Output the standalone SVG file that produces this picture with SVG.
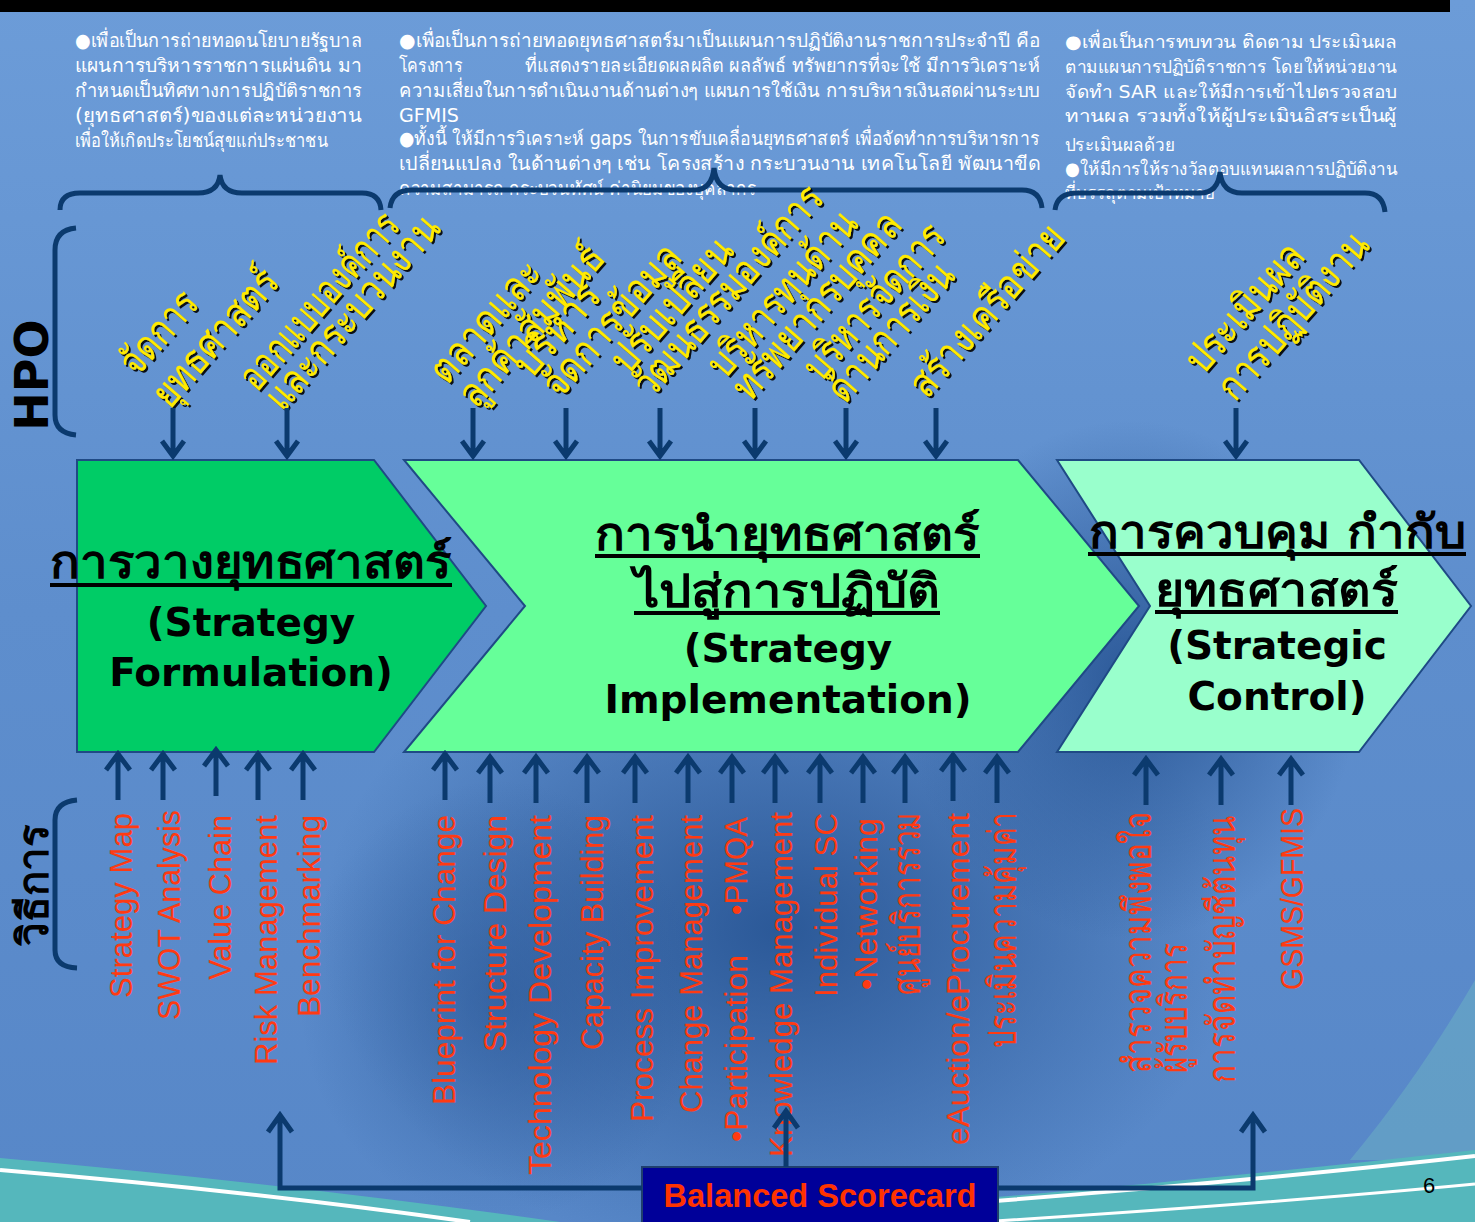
<svg xmlns="http://www.w3.org/2000/svg" width="1475" height="1222" viewBox="0 0 1475 1222">
<defs>
<linearGradient id="bg" x1="0" y1="0" x2="0" y2="1">
<stop offset="0" stop-color="#6C9CD8"/>
<stop offset="0.5" stop-color="#5E8ECD"/>
<stop offset="1" stop-color="#5787C8"/>
</linearGradient>
<radialGradient id="dk" cx="0.5" cy="0.5" r="0.5">
<stop offset="0" stop-color="#23508F" stop-opacity="0.85"/>
<stop offset="1" stop-color="#23508F" stop-opacity="0"/>
</radialGradient>
<filter id="sh" x="-5%" y="-5%" width="110%" height="110%"><feDropShadow dx="2" dy="2" stdDeviation="0.4" flood-color="#000" flood-opacity="0.9"/></filter>
<path id="up" d="M0,0 V-46 M-12,-30 L0,-46 L12,-30"/>
<path id="dn" d="M0,0 V47 M-11,33 L0,48 L11,33"/>
</defs>
<style>
.nv{stroke:#0B3A6E;stroke-width:5;fill:none;}
.chev{stroke:#1F4A85;stroke-width:2;}
.wt{font-family:"DejaVu Sans","Noto Sans",sans-serif;font-size:19px;fill:#fff;}
.yl{font-family:"DejaVu Sans","Noto Sans",sans-serif;font-size:41px;fill:#FFEA00;}
.rd{font-family:"Liberation Sans",Arial,sans-serif;font-size:31px;fill:#FF3A12;}
.rt{font-size:39px;}
.ti{font-family:"DejaVu Sans","Noto Sans",sans-serif;font-weight:bold;font-size:39px;fill:#000;text-anchor:middle;}
.th{font-family:"DejaVu Sans","Noto Sans",sans-serif;font-weight:bold;font-size:46px;fill:#000;}
.ul{stroke:#000;stroke-width:4;}
.side{font-family:"DejaVu Sans","Noto Sans",sans-serif;font-weight:bold;font-size:46px;fill:#000;text-anchor:middle;}
</style>

<!-- background -->
<rect x="0" y="0" width="1475" height="1222" fill="url(#bg)"/>
<ellipse cx="780" cy="930" rx="460" ry="330" fill="url(#dk)"/>
<ellipse cx="1130" cy="680" rx="230" ry="260" fill="url(#dk)"/>
<ellipse cx="500" cy="1000" rx="200" ry="220" fill="url(#dk)" opacity="0.6"/>
<rect x="0" y="0" width="1450" height="12" fill="#000"/>
<path d="M1475,980 C1440,1040 1400,1100 1350,1160 L1475,1160 Z" fill="#6FB8C4" opacity="0.45"/>
<path d="M640,1222 C950,1205 1250,1175 1475,1150 L1475,1222 Z" fill="#55B7BC"/>
<path d="M700,1222 C1000,1203 1280,1178 1475,1156" fill="none" stroke="#fff" stroke-width="4"/>
<path d="M980,1222 C1200,1208 1350,1196 1475,1184" fill="none" stroke="#fff" stroke-width="3"/>
<path d="M0,1158 Q300,1185 560,1222 L0,1222 Z" fill="#55B7BC"/>
<path d="M0,1170 Q260,1192 470,1222" fill="none" stroke="#fff" stroke-width="4"/>

<!-- top paragraphs -->
<g id="para-left" class="wt">
<text x="75" y="47" textLength="287" lengthAdjust="spacingAndGlyphs">●เพื่อเป็นการถ่ายทอดนโยบายรัฐบาล</text>
<text x="75" y="72" textLength="287" lengthAdjust="spacingAndGlyphs">แผนการบริหารราชการแผ่นดิน มา</text>
<text x="75" y="97" textLength="287" lengthAdjust="spacingAndGlyphs">กำหนดเป็นทิศทางการปฏิบัติราชการ</text>
<text x="75" y="122" textLength="287" lengthAdjust="spacingAndGlyphs">(ยุทธศาสตร์)ของแต่ละหน่วยงาน</text>
<text x="75" y="147" textLength="253" lengthAdjust="spacingAndGlyphs">เพื่อให้เกิดประโยชน์สุขแก่ประชาชน</text>
</g>
<g id="para-mid" class="wt">
<text x="399" y="47" textLength="641" lengthAdjust="spacingAndGlyphs">●เพื่อเป็นการถ่ายทอดยุทธศาสตร์มาเป็นแผนการปฏิบัติงานราชการประจำปี คือ</text>
<text x="399" y="72" textLength="63" lengthAdjust="spacingAndGlyphs">โครงการ</text>
<text x="525" y="72" textLength="515" lengthAdjust="spacingAndGlyphs">ที่แสดงรายละเอียดผลผลิต ผลลัพธ์ ทรัพยากรที่จะใช้ มีการวิเคราะห์</text>
<text x="399" y="97" textLength="641" lengthAdjust="spacingAndGlyphs">ความเสี่ยงในการดำเนินงานด้านต่างๆ แผนการใช้เงิน การบริหารเงินสดผ่านระบบ</text>
<text x="399" y="122" textLength="60" lengthAdjust="spacingAndGlyphs">GFMIS</text>
<text x="399" y="145" textLength="640" lengthAdjust="spacingAndGlyphs">●ทั้งนี้ ให้มีการวิเคราะห์ gaps ในการขับเคลื่อนยุทธศาสตร์ เพื่อจัดทำการบริหารการ</text>
<text x="399" y="170" textLength="641" lengthAdjust="spacingAndGlyphs">เปลี่ยนแปลง ในด้านต่างๆ เช่น โครงสร้าง กระบวนงาน เทคโนโลยี พัฒนาขีด</text>
<text x="399" y="195" textLength="357" lengthAdjust="spacingAndGlyphs">ความสามารถ กระบวนทัศน์ ค่านิยมของบุคลากร</text>
</g>
<g id="para-right" class="wt" style="font-size:18px">
<text x="1065" y="48" textLength="332" lengthAdjust="spacingAndGlyphs">●เพื่อเป็นการทบทวน ติดตาม ประเมินผล</text>
<text x="1065" y="73" textLength="332" lengthAdjust="spacingAndGlyphs">ตามแผนการปฏิบัติราชการ โดยให้หน่วยงาน</text>
<text x="1065" y="98" textLength="332" lengthAdjust="spacingAndGlyphs">จัดทำ SAR และให้มีการเข้าไปตรวจสอบ</text>
<text x="1065" y="122" textLength="332" lengthAdjust="spacingAndGlyphs">ทานผล รวมทั้งให้ผู้ประเมินอิสระเป็นผู้</text>
<text x="1065" y="151" textLength="110" lengthAdjust="spacingAndGlyphs">ประเมินผลด้วย</text>
<text x="1065" y="175" textLength="332" lengthAdjust="spacingAndGlyphs">●ให้มีการให้รางวัลตอบแทนผลการปฏิบัติงาน</text>
<text x="1065" y="199" textLength="150" lengthAdjust="spacingAndGlyphs">ที่บรรลุตามเป้าหมาย</text>
</g>

<!-- brackets -->
<g id="brackets" class="nv">
<path d="M60,210 Q60,193 80,193 L198,193 Q218,193 220,175 Q222,193 242,193 L362,193 Q380,193 381,210"/>
<path d="M390,208 Q392,190 412,190 L694,190 Q712,190 714,168 Q716,190 736,190 L1022,190 Q1040,190 1042,208"/>
<path d="M1055,210 Q1057,193 1077,193 L1200,193 Q1218,193 1220,172 Q1222,193 1242,193 L1365,193 Q1383,193 1385,212"/>
<path d="M76,228 Q55,230 55,250 L55,415 Q55,433 76,435"/>
<path d="M77,800 Q55,802 55,820 L55,950 Q55,967 77,968"/>
</g>
<text class="side" transform="translate(48,375) rotate(-90)">HPO</text>
<text class="side" transform="translate(48,885) rotate(-90)" style="font-size:42px">วิธีการ</text>

<!-- yellow HPO labels -->
<g id="hpo-labels" class="yl" filter="url(#sh)">
<text transform="translate(137,378) rotate(-49)" textLength="97" lengthAdjust="spacingAndGlyphs">จัดการ</text>
<text transform="translate(170,410) rotate(-49)" textLength="169" lengthAdjust="spacingAndGlyphs">ยุทธศาสตร์</text>
<text transform="translate(257,393) rotate(-49)" textLength="221" lengthAdjust="spacingAndGlyphs">ออกแบบองค์การ</text>
<text transform="translate(283,413) rotate(-49)" textLength="243" lengthAdjust="spacingAndGlyphs">และกระบวนงาน</text>
<text transform="translate(447,386) rotate(-49)" textLength="148" lengthAdjust="spacingAndGlyphs">ตลาดและ</text>
<text transform="translate(476,410) rotate(-49)" textLength="200" lengthAdjust="spacingAndGlyphs">ลูกค้าสัมพันธ์</text>
<text transform="translate(531,380) rotate(-49)" textLength="110" lengthAdjust="spacingAndGlyphs">บริหาร</text>
<text transform="translate(560,400) rotate(-49)" textLength="188" lengthAdjust="spacingAndGlyphs">จัดการข้อมูล</text>
<text transform="translate(628,376) rotate(-49)" textLength="164" lengthAdjust="spacingAndGlyphs">ปรับเปลี่ยน</text>
<text transform="translate(651,400) rotate(-49)" textLength="266" lengthAdjust="spacingAndGlyphs">วัฒนธรรมองค์การ</text>
<text transform="translate(725,380) rotate(-49)" textLength="205" lengthAdjust="spacingAndGlyphs">บริหารทุนด้าน</text>
<text transform="translate(750,403) rotate(-49)" textLength="234" lengthAdjust="spacingAndGlyphs">ทรัพยากรบุคคล</text>
<text transform="translate(821,383) rotate(-49)" textLength="193" lengthAdjust="spacingAndGlyphs">บริหารจัดการ</text>
<text transform="translate(845,405) rotate(-49)" textLength="170" lengthAdjust="spacingAndGlyphs">ด้านการเงิน</text>
<text transform="translate(927,400) rotate(-49)" textLength="214" lengthAdjust="spacingAndGlyphs">สร้างเครือข่าย</text>
<text transform="translate(1203,376) rotate(-49)" textLength="158" lengthAdjust="spacingAndGlyphs">ประเมินผล</text>
<text transform="translate(1235,403) rotate(-49)" textLength="208" lengthAdjust="spacingAndGlyphs">การปฏิบัติงาน</text>
</g>

<!-- chevron nodes -->
<g id="node-formulation">
<polygon class="chev" points="77,460 374,460 486,606 374,752 77,752" fill="#00CC66"/>
<text class="th" x="50" y="578" textLength="402" lengthAdjust="spacingAndGlyphs">การวางยุทธศาสตร์</text>
<line class="ul" x1="50" y1="585" x2="452" y2="585"/>
<text class="ti" x="251" y="636">(Strategy</text>
<text class="ti" x="251" y="686">Formulation)</text>
</g>
<g id="node-implementation">
<polygon class="chev" points="404,460 1018,460 1139,606 1018,752 404,752 525,606" fill="#66FF99"/>
<text class="th" x="595" y="550" textLength="385" lengthAdjust="spacingAndGlyphs">การนำยุทธศาสตร์</text>
<line class="ul" x1="595" y1="556" x2="980" y2="556"/>
<text class="th" x="634" y="607" textLength="306" lengthAdjust="spacingAndGlyphs">ไปสู่การปฏิบัติ</text>
<line class="ul" x1="634" y1="613" x2="940" y2="613"/>
<text class="ti" x="788" y="662">(Strategy</text>
<text class="ti" x="788" y="713">Implementation)</text>
</g>
<g id="node-control">
<polygon class="chev" points="1057,460 1359,460 1471,606 1359,752 1057,752 1150,606" fill="#99FFCC"/>
<text class="th" x="1089" y="548" textLength="377" lengthAdjust="spacingAndGlyphs">การควบคุม กำกับ</text>
<line class="ul" x1="1088" y1="554" x2="1466" y2="554"/>
<text class="th" x="1155" y="606" textLength="243" lengthAdjust="spacingAndGlyphs">ยุทธศาสตร์</text>
<line class="ul" x1="1155" y1="612" x2="1398" y2="612"/>
<text class="ti" x="1277" y="659">(Strategic</text>
<text class="ti" x="1277" y="710">Control)</text>
</g>

<!-- method labels -->
<g id="methods" class="rd" text-anchor="end">
<text transform="translate(132,813) rotate(-90)" textLength="185" lengthAdjust="spacingAndGlyphs">Strategy Map</text>
<text transform="translate(180,810) rotate(-90)" textLength="210" lengthAdjust="spacingAndGlyphs">SWOT Analysis</text>
<text transform="translate(231,815) rotate(-90)" textLength="165" lengthAdjust="spacingAndGlyphs">Value Chain</text>
<text transform="translate(277,815) rotate(-90)" textLength="250" lengthAdjust="spacingAndGlyphs">Risk Management</text>
<text transform="translate(320,815) rotate(-90)" textLength="202" lengthAdjust="spacingAndGlyphs">Benchmarking</text>

<text transform="translate(455,815) rotate(-90)" textLength="290" lengthAdjust="spacingAndGlyphs">Blueprint for Change</text>
<text transform="translate(506,815) rotate(-90)" textLength="237" lengthAdjust="spacingAndGlyphs">Structure Design</text>
<text transform="translate(551,815) rotate(-90)" textLength="360" lengthAdjust="spacingAndGlyphs">Technology Development</text>
<text transform="translate(603,815) rotate(-90)" textLength="235" lengthAdjust="spacingAndGlyphs">Capacity Building</text>
<text transform="translate(653,815) rotate(-90)" textLength="307" lengthAdjust="spacingAndGlyphs">Process Improvement</text>
<text transform="translate(702,815) rotate(-90)" textLength="298" lengthAdjust="spacingAndGlyphs">Change Management</text>
<text transform="translate(747,817) rotate(-90)" textLength="98" lengthAdjust="spacingAndGlyphs">•PMQA</text>
<text transform="translate(747,955) rotate(-90)" textLength="187" lengthAdjust="spacingAndGlyphs">•Participation</text>
<text transform="translate(792,812) rotate(-90)" textLength="345" lengthAdjust="spacingAndGlyphs">Knowledge Management</text>
<text transform="translate(837,813) rotate(-90)" textLength="184" lengthAdjust="spacingAndGlyphs">Individual SC</text>
<text transform="translate(877,818) rotate(-90)" textLength="172" lengthAdjust="spacingAndGlyphs">•Networking</text>
<text class="rt" transform="translate(920,812) rotate(-90)" textLength="183" lengthAdjust="spacingAndGlyphs">ศูนย์บริการร่วม</text>
<text transform="translate(969,813) rotate(-90)" textLength="332" lengthAdjust="spacingAndGlyphs">eAuction/eProcurement</text>
<text class="rt" transform="translate(1016,812) rotate(-90)" textLength="236" lengthAdjust="spacingAndGlyphs">ประเมินความคุ้มค่า</text>

<text class="rt" transform="translate(1151,812) rotate(-90)" textLength="261" lengthAdjust="spacingAndGlyphs">สำรวจความพึงพอใจ</text>
<text class="rt" transform="translate(1187,943) rotate(-90)" textLength="130" lengthAdjust="spacingAndGlyphs">ผู้รับบริการ</text>
<text class="rt" transform="translate(1235,815) rotate(-90)" textLength="268" lengthAdjust="spacingAndGlyphs">การจัดทำบัญชีต้นทุน</text>
<text transform="translate(1303,808) rotate(-90)" textLength="182" lengthAdjust="spacingAndGlyphs">GSMS/GFMIS</text>
</g>

<!-- Balanced Scorecard node -->
<g id="node-bsc">
<rect x="642" y="1167" width="356" height="60" fill="#000099" stroke="#1F3F6F" stroke-width="2"/>
<text x="820" y="1207" text-anchor="middle" textLength="313" lengthAdjust="spacingAndGlyphs" style="font-family:'Liberation Sans',Arial,sans-serif;font-weight:bold;font-size:33px;fill:#FF3300">Balanced Scorecard</text>
</g>

<!-- connectors -->
<g id="connectors" class="nv">
<use href="#dn" x="173" y="408"/>
<use href="#dn" x="287" y="408"/>
<use href="#dn" x="473" y="408"/>
<use href="#dn" x="566" y="408"/>
<use href="#dn" x="660" y="408"/>
<use href="#dn" x="755" y="408"/>
<use href="#dn" x="846" y="408"/>
<use href="#dn" x="936" y="408"/>
<use href="#dn" x="1236" y="408"/>

<use href="#up" x="118" y="800"/>
<use href="#up" x="163" y="800"/>
<use href="#up" x="216" y="796"/>
<use href="#up" x="258" y="800"/>
<use href="#up" x="303" y="800"/>

<use href="#up" x="445" y="800"/>
<use href="#up" x="490" y="803"/>
<use href="#up" x="536" y="803"/>
<use href="#up" x="587" y="803"/>
<use href="#up" x="635" y="803"/>
<use href="#up" x="688" y="803"/>
<use href="#up" x="732" y="803"/>
<use href="#up" x="775" y="803"/>
<use href="#up" x="820" y="803"/>
<use href="#up" x="863" y="803"/>
<use href="#up" x="905" y="803"/>
<use href="#up" x="953" y="801"/>
<use href="#up" x="997" y="803"/>

<use href="#up" x="1146" y="805"/>
<use href="#up" x="1221" y="805"/>
<use href="#up" x="1291" y="805"/>

<path d="M642,1188 H280 V1116 M268,1132 L280,1115 L292,1132"/>
<path d="M998,1188 H1253 V1116 M1241,1132 L1253,1115 L1265,1132"/>
<path d="M786,1167 V1112 M774,1128 L786,1111 L798,1128"/>
</g>

<text x="1423" y="1193" style="font-family:'Liberation Sans',Arial,sans-serif;font-size:22px;fill:#000">6</text>
</svg>
